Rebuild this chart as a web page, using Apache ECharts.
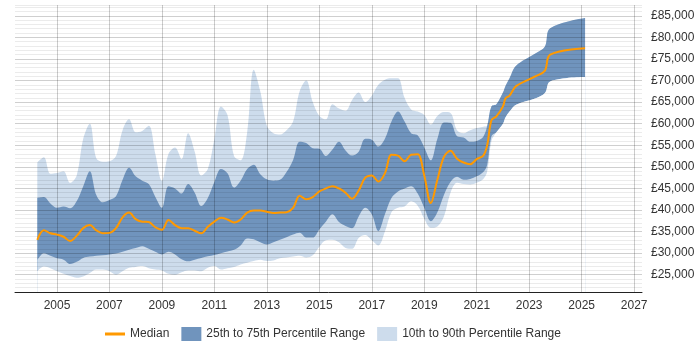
<!DOCTYPE html>
<html>
<head>
<meta charset="utf-8">
<script src="https://cdn.jsdelivr.net/npm/echarts@6/dist/echarts.min.js"></script>
</head>
<body style="margin:0">
<div id="main" style="width:700px;height:350px"></div>
<script type="text/javascript">
// year positions of the samples
var years = [
  2004.25, 2004.5, 2004.75, 2005, 2005.25, 2005.5, 2005.75, 2006, 2006.25, 2006.5, 2006.75,
  2007, 2007.25, 2007.5, 2007.75, 2008, 2008.25, 2008.5, 2008.75, 2009, 2009.25, 2009.5, 2009.75,
  2010, 2010.25, 2010.5, 2010.75, 2011, 2011.25, 2011.5, 2011.75, 2012, 2012.25, 2012.5, 2012.75,
  2013, 2013.25, 2013.5, 2013.75, 2014, 2014.25, 2014.5, 2014.75, 2015, 2015.25, 2015.5, 2015.75,
  2016, 2016.25, 2016.5, 2016.75, 2017, 2017.25, 2017.5, 2017.75, 2018, 2018.25, 2018.5, 2018.75,
  2019, 2019.25, 2019.5, 2019.75, 2020, 2020.25, 2020.5, 2020.75, 2021, 2021.25,
  2021.4, 2021.56, 2021.75, 2022, 2022.1, 2022.25, 2022.5, 2023.25, 2023.6, 2023.8, 2025.13
];
var p90 = [
  51000, 52200, 48400, 48600, 49000, 46300, 48000, 56500, 60000, 52000, 51200,
  51300, 52500, 58500, 61000, 58000, 58300, 59500, 53000, 46800, 53000, 54500, 51800,
  57800, 53500, 48000, 49500, 56500, 64000, 62000, 52500, 51500, 58000, 72500, 67500,
  59500, 57800, 57500, 58500, 60500, 67500, 70000, 65000, 61800, 61000, 64500, 63500,
  63000, 65500, 67200, 65000, 66500, 69000, 70200, 70500, 70500, 66000, 63300, 62800,
  62000, 59800, 61800, 62700, 62500, 58500, 57800, 58500, 59000, 59300,
  59600, 64000, 64500, 67200, 68800, 70500, 73400, 76300, 77900, 82100, 84500
];
var p75 = [
  42800, 43000, 41500, 40500, 40800, 40400, 42000, 45500, 49000, 43500, 41800,
  42300, 43200, 47000, 49800, 47800, 46800, 46000, 43000, 40500, 45500, 45000, 43800,
  46000, 44000, 40900, 42800, 46500, 49500, 48500, 45200, 46800, 49500, 50500, 48300,
  47100, 46800, 47000, 48800, 51600, 55800, 55500, 54300, 54200, 52500, 54000, 55800,
  53800, 52600, 53500, 56500, 56300, 54700, 56500, 60500, 62800, 60500, 57800, 57300,
  54500, 51500, 56500, 60300, 60200, 57100, 56800, 55800, 56000, 57000,
  59500, 64000, 64500, 67200, 68800, 70500, 73400, 76300, 77900, 82100, 84500
];
var median = [
  33100, 35300, 34600, 34300, 33800, 32800, 34000, 35800, 36500, 35300, 34600,
  34700, 35800, 38300, 39400, 37900, 37300, 37200, 36000, 35400, 37700, 36500, 35800,
  35800, 35200, 34600, 36100, 37300, 38200, 37800, 37100, 37800, 39400, 39900, 39900,
  39600, 39300, 39400, 39500, 40500, 43300, 42500, 43000, 44300, 45000, 45500, 45000,
  44000, 42600, 44500, 47500, 48000, 46600, 48500, 52800, 52600, 51300, 52800, 52900,
  48000, 41600, 47000, 52300, 53700, 51900, 51000, 50600, 51800, 52600,
  55000, 60800, 61700, 64000, 65900, 66500, 68700, 71000, 72300, 76000, 77500
];
var p25 = [
  28400, 30000, 29400, 28800, 28500, 27500, 28000, 28900, 29200, 29400, 29500,
  29700, 29900, 30300, 30800, 31200, 31600, 31000, 30300, 29700, 30300, 29700, 28600,
  28100, 28500, 28900, 29300, 29600, 30000, 30400, 30800, 31800, 33400, 33200, 32500,
  32000, 32500, 33100, 33700, 34300, 34700, 33600, 33600, 35500, 37300, 39000, 37200,
  36300, 35800, 38500, 40500, 39000, 35100, 39000, 42800, 44300, 45000, 45500, 43800,
  40500, 37400, 39500, 43500, 46500, 47700, 47000, 47200, 47800, 48800,
  50500, 57100, 58000, 60000, 61500, 62800, 64400, 65900, 67100, 69800, 70800
];
var p10 = [
  25800, 26900, 26500, 25800, 25200, 24700, 24300, 24600, 25400, 26200, 26200,
  25800, 25000, 25800, 26600, 26800, 27000, 26500, 26200, 26000, 25200, 25000, 25600,
  26000, 26000, 25800, 26600, 27000, 26200, 26500, 26800, 27400, 27800, 28200, 28500,
  28200, 28300, 28800, 29000, 29200, 29400, 29000, 29500, 31500, 33000, 33100, 32500,
  31200, 31000, 33500, 34200, 33000, 31800, 35000, 39500, 40500, 40800, 42000, 41000,
  38000, 35900, 36200, 38500, 44000, 46300, 46000, 45900, 46300, 47200,
  49000, 56000, 58000, 60000, 61500, 62800, 64400, 65900, 67100, 69800, 70800
];
var yearTicks = [2005, 2007, 2009, 2011, 2013, 2015, 2017, 2019, 2021, 2023, 2025, 2027];

var lightBand = '#cddcec';
var darkBand = '#7094bd';

function pairs(vals) {
  return years.map(function (y, i) { return [y, vals[i]]; });
}
function money(v) {
  return '£' + String(v).replace(/\B(?=(\d{3})+(?!\d))/g, ',');
}

// filled areas sit under the grid lines; each one fills down to the axis and
// the next one paints over it: p90 light, p75 dark, p25 light, p10 white
function band(name, vals, color) {
  return {
    type: 'line', name: name, data: pairs(vals), z: -1,
    symbol: 'none', smooth: 0.35, silent: true,
    lineStyle: { width: 0, opacity: 0 },
    itemStyle: { color: color },
    areaStyle: { color: color, opacity: 1, origin: 'start' }
  };
}

var chart = echarts.init(document.getElementById('main'));
chart.setOption({
  animation: false,
  textStyle: { fontFamily: 'Liberation Sans, Arial, sans-serif' },
  grid: { left: 15, right: 58, top: 5, bottom: 58, containLabel: false, outerBoundsMode: 'none' },
  legend: {
    bottom: 4, left: 100, itemWidth: 20, itemHeight: 14, itemGap: 12,
    textStyle: { fontSize: 12, color: '#333' },
    data: [
      { name: 'Median', icon: 'path://M0,0L20,0L20,0.01L0,0.01Z M0,5.5L20,5.5L20,8.5L0,8.5Z M0,13.99L20,13.99L20,14L0,14Z' },
      { name: '25th to 75th Percentile Range', icon: 'rect' },
      { name: '10th to 90th Percentile Range', icon: 'rect' }
    ]
  },
  xAxis: {
    type: 'value', min: 2003.4, max: 2027.3,
    axisLine: { lineStyle: { color: '#222', width: 1 } },
    axisTick: { show: false, customValues: yearTicks },
    axisLabel: {
      customValues: yearTicks, color: '#333', fontSize: 12, margin: 8,
      formatter: function (v) { return String(v); }
    },
    splitLine: { show: true, lineStyle: { color: 'rgba(0,0,0,0.2)' } }
  },
  yAxis: {
    type: 'value', position: 'right', min: 21000, max: 87500, interval: 1000,
    axisLine: { show: false }, axisTick: { show: false },
    axisLabel: {
      color: '#333', fontSize: 12, margin: 9,
      formatter: function (v) { return v % 5000 === 0 && v >= 25000 && v <= 85000 ? money(v) : ''; }
    },
    splitLine: {
      lineStyle: {
        color: ['rgba(0,0,0,0.08)', 'rgba(0,0,0,0.08)', 'rgba(0,0,0,0.08)', 'rgba(0,0,0,0.08)', 'rgba(0,0,0,0.19)']
      }
    }
  },
  series: [
    band('10th to 90th Percentile Range', p90, lightBand),
    band('25th to 75th Percentile Range', p75, darkBand),
    band('p25', p25, lightBand),
    band('p10', p10, '#ffffff'),
    {
      type: 'line', name: 'Median', data: pairs(median), z: 5,
      symbol: 'none', smooth: 0.35,
      itemStyle: { color: '#f90' }, lineStyle: { color: '#f90', width: 2 }
    }
  ]
});
</script>
</body>
</html>
